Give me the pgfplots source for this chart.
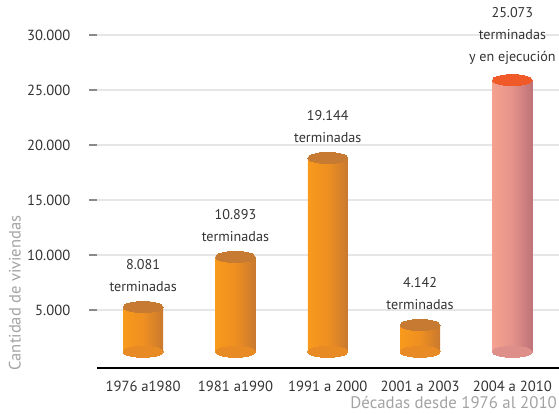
\documentclass[border=0pt]{standalone}
\usepackage{fontspec}
\setmainfont{PT Sans}
\usepackage{pgfplots}
\pgfplotsset{compat=1.18}
\definecolor{oL}{HTML}{F89A1C}
\definecolor{oM}{HTML}{EE8F21}
\definecolor{oR}{HTML}{C9792F}
\definecolor{oT}{HTML}{C77A32}
\definecolor{oB}{HTML}{E88B24}
\definecolor{pL}{HTML}{F5A18F}
\definecolor{pM}{HTML}{E5928A}
\definecolor{pR}{HTML}{BD7378}
\definecolor{pT}{HTML}{F05A28}
\definecolor{pB}{HTML}{DE8F89}
\definecolor{txt}{HTML}{333333}
\definecolor{lab}{HTML}{A3A3A3}
\definecolor{tk}{HTML}{8A8A8A}
\definecolor{grd}{HTML}{E6E6E6}
\pgfplotsset{
  orangecyl/.style={draw=none, mark=none, left color=oL, right color=oR, middle color=oM},
  pinkcyl/.style={draw=none, mark=none, left color=pL, right color=pR, middle color=pM},
  cap/.style={only marks, mark=*, mark size=15pt, mark options={yscale=0.275, draw=#1, fill=#1, line width=0pt}},
}
\begin{document}
\begin{tikzpicture}
\begin{axis}[name=ax,
  scale only axis, width=346.1pt, height=272pt,
  xmin=-0.5, xmax=4.5, ymin=-270, ymax=32700,
  clip=false,
  axis lines*=left,
  y axis line style={draw=none},
  x axis line style={draw=black, line width=0.9pt, -},
  tick align=outside, major tick length=6pt,
  tick style={draw=tk, line width=2pt},
  xtick={0,1,2,3,4},
  xticklabels={1976 a1980, 1981 a1990, 1991 a 2000, 2001 a 2003, 2004 a 2010},
  x tick style={draw=none},
  extra x ticks={-0.5,0.5,1.5,2.5,3.5},
  extra x tick labels={},
  extra x tick style={tick align=center, major tick length=7pt, tick style={draw=tk, line width=2.2pt}},
  ytick={5000,10000,15000,20000,25000,30000},
  yticklabels={5.000,10.000,15.000,20.000,25.000,30.000},
  ymajorgrids, major grid style={draw=grd, line width=2pt},
  tick label style={font=\fontsize{11}{13}\selectfont, text=txt},
  xticklabel style={yshift=0pt},
  yticklabel style={xshift=-10.5pt},
  xlabel={Décadas desde 1976 al 2010},
  xlabel style={at={(axis description cs:0.997,-0.112)}, anchor=base east, inner sep=0pt, font=\fontsize{12.6}{14}\selectfont, text=lab},
  ylabel={Cantidad de viviendas},
  ylabel style={at={(axis description cs:-0.178,0.207)}, anchor=center, inner sep=0pt, font=\fontsize{12.4}{14}\selectfont, text=lab},
]
% bottom rounding of the cylinders (base of each cylinder at 1200)
\addplot[cap=oB] coordinates {(0,1200) (1,1200) (2,1200) (3,1200)};
\addplot[cap=pB] coordinates {(4,1200)};
% cylinders: each bar spans x +- 0.2167 from 1200 to its height
\addplot[orangecyl] coordinates {(-0.2167,1200) (-0.2167,5270) (0.2167,5270) (0.2167,1200)};
\addplot[orangecyl] coordinates {(0.7833,1200) (0.7833,9820) (1.2167,9820) (1.2167,1200)};
\addplot[orangecyl] coordinates {(1.7833,1200) (1.7833,18820) (2.2167,18820) (2.2167,1200)};
\addplot[orangecyl] coordinates {(2.7833,1200) (2.7833,3640) (3.2167,3640) (3.2167,1200)};
\addplot[pinkcyl] coordinates {(3.7833,1200) (3.7833,25900) (4.2167,25900) (4.2167,1200)};
% tops
\addplot[cap=oT] coordinates {(0,5270) (1,9820) (2,18820) (3,3640)};
\addplot[cap=pT] coordinates {(4,25900)};
% labels
\addplot[only marks, mark=text, text mark={},
  point meta=explicit symbolic, nodes near coords,
  nodes near coords style={align=center, anchor=south, yshift=9.5pt, inner sep=2pt,
    font=\fontsize{10.6}{16.5}\selectfont, text=txt}]
  coordinates {(0,5270) [{8.081\\terminadas}] (1,9820) [{10.893\\terminadas}] (2,18820) [{19.144\\terminadas}] (3,3640) [{4.142\\terminadas}] (4,25900) [{25.073\\terminadas\\y en ejecución}]};
\end{axis}
\pgfresetboundingbox
\path[use as bounding box] ([xshift=-72.75pt, yshift=-33.75pt]ax.south west) rectangle ([xshift=0.375pt, yshift=4pt]ax.north east);
\end{tikzpicture}
\end{document}
